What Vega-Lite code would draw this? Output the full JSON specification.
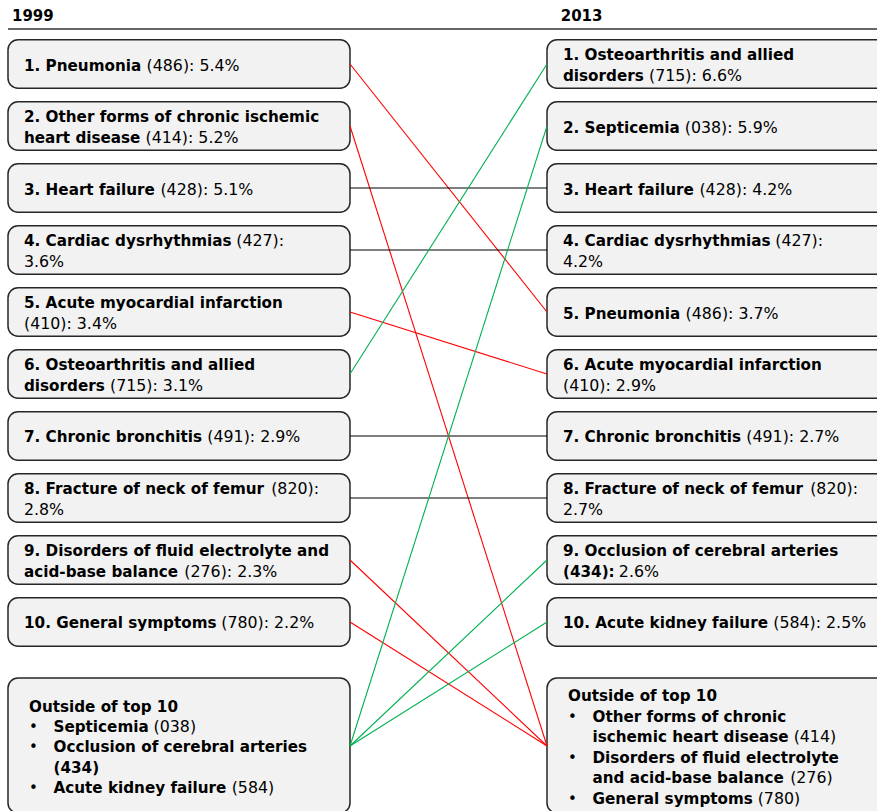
{
  "$schema": "https://vega.github.io/schema/vega-lite/v6.json",
  "width": 877,
  "height": 811,
  "autosize": {"type": "none"},
  "padding": 0,
  "background": "white",
  "config": {"view": {"stroke": null}, "font": "DejaVu Sans"},
  "datasets": {
    "lines": [
      {"year": "1999", "rank": 1, "kind": "plain", "b": "1. Pneumonia", "n": "(486): 5.4%"},
      {"year": "1999", "rank": 2, "kind": "plain", "b": "2. Other forms of chronic ischemic", "n": ""},
      {"year": "1999", "rank": 2, "kind": "plain", "b": "heart disease", "n": "(414): 5.2%"},
      {"year": "1999", "rank": 3, "kind": "plain", "b": "3. Heart failure", "n": "(428): 5.1%"},
      {"year": "1999", "rank": 4, "kind": "plain", "b": "4. Cardiac dysrhythmias", "n": "(427):"},
      {"year": "1999", "rank": 4, "kind": "plain", "b": "", "n": "3.6%"},
      {"year": "1999", "rank": 5, "kind": "plain", "b": "5. Acute myocardial infarction", "n": ""},
      {"year": "1999", "rank": 5, "kind": "plain", "b": "", "n": "(410): 3.4%"},
      {"year": "1999", "rank": 6, "kind": "plain", "b": "6. Osteoarthritis and allied", "n": ""},
      {"year": "1999", "rank": 6, "kind": "plain", "b": "disorders", "n": "(715): 3.1%"},
      {"year": "1999", "rank": 7, "kind": "plain", "b": "7. Chronic bronchitis", "n": "(491): 2.9%"},
      {"year": "1999", "rank": 8, "kind": "plain", "b": "8. Fracture of neck of femur", "n": "(820):"},
      {"year": "1999", "rank": 8, "kind": "plain", "b": "", "n": "2.8%"},
      {"year": "1999", "rank": 9, "kind": "plain", "b": "9. Disorders of fluid electrolyte and", "n": ""},
      {"year": "1999", "rank": 9, "kind": "plain", "b": "acid-base balance", "n": "(276): 2.3%"},
      {"year": "1999", "rank": 10, "kind": "plain", "b": "10. General symptoms", "n": "(780): 2.2%"},
      {"year": "1999", "rank": 11, "kind": "title", "b": "Outside of top 10", "n": ""},
      {"year": "1999", "rank": 11, "kind": "bullet", "b": "Septicemia", "n": "(038)"},
      {"year": "1999", "rank": 11, "kind": "bullet", "b": "Occlusion of cerebral arteries", "n": ""},
      {"year": "1999", "rank": 11, "kind": "cont", "b": "(434)", "n": ""},
      {"year": "1999", "rank": 11, "kind": "bullet", "b": "Acute kidney failure", "n": "(584)"},
      {"year": "2013", "rank": 1, "kind": "plain", "b": "1. Osteoarthritis and allied", "n": ""},
      {"year": "2013", "rank": 1, "kind": "plain", "b": "disorders", "n": "(715): 6.6%"},
      {"year": "2013", "rank": 2, "kind": "plain", "b": "2. Septicemia", "n": "(038): 5.9%"},
      {"year": "2013", "rank": 3, "kind": "plain", "b": "3. Heart failure", "n": "(428): 4.2%"},
      {"year": "2013", "rank": 4, "kind": "plain", "b": "4. Cardiac dysrhythmias", "n": "(427):"},
      {"year": "2013", "rank": 4, "kind": "plain", "b": "", "n": "4.2%"},
      {"year": "2013", "rank": 5, "kind": "plain", "b": "5. Pneumonia", "n": "(486): 3.7%"},
      {"year": "2013", "rank": 6, "kind": "plain", "b": "6. Acute myocardial infarction", "n": ""},
      {"year": "2013", "rank": 6, "kind": "plain", "b": "", "n": "(410): 2.9%"},
      {"year": "2013", "rank": 7, "kind": "plain", "b": "7. Chronic bronchitis", "n": "(491): 2.7%"},
      {"year": "2013", "rank": 8, "kind": "plain", "b": "8. Fracture of neck of femur", "n": "(820):"},
      {"year": "2013", "rank": 8, "kind": "plain", "b": "", "n": "2.7%"},
      {"year": "2013", "rank": 9, "kind": "plain", "b": "9. Occlusion of cerebral arteries", "n": ""},
      {"year": "2013", "rank": 9, "kind": "plain", "b": "(434):", "n": "2.6%"},
      {"year": "2013", "rank": 10, "kind": "plain", "b": "10. Acute kidney failure", "n": "(584): 2.5%"},
      {"year": "2013", "rank": 11, "kind": "title", "b": "Outside of top 10", "n": ""},
      {"year": "2013", "rank": 11, "kind": "bullet", "b": "Other forms of chronic", "n": ""},
      {"year": "2013", "rank": 11, "kind": "cont", "b": "ischemic heart disease", "n": "(414)"},
      {"year": "2013", "rank": 11, "kind": "bullet", "b": "Disorders of fluid electrolyte", "n": ""},
      {"year": "2013", "rank": 11, "kind": "cont", "b": "and acid-base balance", "n": "(276)"},
      {"year": "2013", "rank": 11, "kind": "bullet", "b": "General symptoms", "n": "(780)"}
    ],
    "links": [
      {"from": 1, "to": 5},
      {"from": 2, "to": 11},
      {"from": 3, "to": 3},
      {"from": 4, "to": 4},
      {"from": 5, "to": 6},
      {"from": 6, "to": 1},
      {"from": 7, "to": 7},
      {"from": 8, "to": 8},
      {"from": 9, "to": 11},
      {"from": 10, "to": 11},
      {"from": 11, "to": 2},
      {"from": 11, "to": 9},
      {"from": 11, "to": 10}
    ],
    "headers": [{"year": "1999"}, {"year": "2013"}]
  },
  "layer": [
    {
      "data": {"name": "headers"},
      "transform": [{"filter": "datum.year == '1999'"}],
      "mark": {"type": "rule", "color": "#333333", "strokeWidth": 1.3},
      "encoding": {
        "x": {"datum": 0, "type": "quantitative", "scale": {"domain": [-0.014842, 1.612245]}, "axis": null},
        "x2": {"datum": 1.62},
        "y": {"datum": 0.4355, "type": "quantitative", "scale": {"domain": [-0.03226, 13.04839], "reverse": true}, "axis": null}
      }
    },
    {
      "data": {"name": "headers"},
      "transform": [
        {"calculate": "datum.year == '2013' ? 1 + 13.7/539 : 4/539", "as": "hx"},
        {"calculate": "0.3016", "as": "hy"}
      ],
      "mark": {"type": "text", "fontWeight": "bold", "fontSize": 15, "align": "left", "baseline": "alphabetic", "color": "#000000"},
      "encoding": {
        "x": {"field": "hx", "type": "quantitative", "scale": {"domain": [-0.014842, 1.612245]}, "axis": null},
        "y": {"field": "hy", "type": "quantitative", "scale": {"domain": [-0.03226, 13.04839], "reverse": true}, "axis": null},
        "text": {"field": "year"}
      }
    },
    {
      "data": {"name": "lines"},
      "transform": [
        {"aggregate": [{"op": "count", "as": "nl"}], "groupby": ["year", "rank"]},
        {"calculate": "datum.year == '2013' ? 1 : 0", "as": "col"},
        {"calculate": "datum.col + 342/539", "as": "colr"},
        {"calculate": "datum.rank > 10 ? 10.903 : datum.rank - 0.39", "as": "top"},
        {"calculate": "datum.rank > 10 ? 13.08 : datum.rank + 0.39", "as": "bot"}
      ],
      "mark": {"type": "rect", "cornerRadius": 10, "fill": "#f2f2f2", "stroke": "#262626", "strokeWidth": 1.5},
      "encoding": {
        "x": {"field": "col", "type": "quantitative", "scale": {"domain": [-0.014842, 1.612245]}, "axis": null},
        "x2": {"field": "colr"},
        "y": {"field": "top", "type": "quantitative", "scale": {"domain": [-0.03226, 13.04839], "reverse": true}, "axis": null},
        "y2": {"field": "bot"}
      }
    },
    {
      "data": {"name": "links"},
      "transform": [
        {"calculate": "datum.from > 10 ? 12 : datum.from", "as": "ya"},
        {"calculate": "datum.to > 10 ? 12 : datum.to", "as": "yb"},
        {"calculate": "datum.from < datum.to ? 'fell' : (datum.from > datum.to ? 'rose' : 'same')", "as": "change"}
      ],
      "mark": {"type": "rule", "strokeWidth": 1.1},
      "encoding": {
        "x": {"datum": 0.6345, "type": "quantitative", "scale": {"domain": [-0.014842, 1.612245]}, "axis": null},
        "x2": {"datum": 1},
        "y": {"field": "ya", "type": "quantitative", "scale": {"domain": [-0.03226, 13.04839], "reverse": true}, "axis": null},
        "y2": {"field": "yb"},
        "color": {"field": "change", "type": "nominal", "scale": {"domain": ["fell", "rose", "same"], "range": ["#ff0000", "#00b050", "#000000"]}, "legend": null}
      }
    },
    {
      "data": {"name": "lines"},
      "transform": [
        {"window": [{"op": "row_number", "as": "idx"}], "groupby": ["year", "rank"]},
        {"joinaggregate": [{"op": "count", "as": "nl"}], "groupby": ["year", "rank"]},
        {"calculate": "datum.year == '2013' ? 1 : 0", "as": "col"},
        {"calculate": "(datum.rank > 10 ? 12 : datum.rank) + (datum.idx - (datum.nl + 1) / 2) * 0.3306", "as": "ypos"},
        {"calculate": "datum.kind == 'plain' ? 16 : (datum.kind == 'title' ? 21 : 45.5)", "as": "indent"},
        {"filter": "datum.b != ''"},
        {"calculate": "datum.col + datum.indent / 539", "as": "xb"}
      ],
      "mark": {"type": "text", "fontWeight": "bold", "fontSize": 15.2, "align": "left", "baseline": "alphabetic", "dy": 6.5, "color": "#000000"},
      "encoding": {
        "x": {"field": "xb", "type": "quantitative", "scale": {"domain": [-0.014842, 1.612245]}, "axis": null},
        "y": {"field": "ypos", "type": "quantitative", "scale": {"domain": [-0.03226, 13.04839], "reverse": true}, "axis": null},
        "text": {"field": "b"}
      }
    },
    {
      "data": {"name": "lines"},
      "transform": [
        {"window": [{"op": "row_number", "as": "idx"}], "groupby": ["year", "rank"]},
        {"joinaggregate": [{"op": "count", "as": "nl"}], "groupby": ["year", "rank"]},
        {"calculate": "datum.year == '2013' ? 1 : 0", "as": "col"},
        {"calculate": "(datum.rank > 10 ? 12 : datum.rank) + (datum.idx - (datum.nl + 1) / 2) * 0.3306", "as": "ypos"},
        {"calculate": "datum.kind == 'plain' ? 16 : (datum.kind == 'title' ? 21 : 45.5)", "as": "indent"},
        {"filter": "datum.n != ''"},
        {"calculate": "0.35*length(replace(datum.b, regexp('[^ ijlI]','g'), '')) + 0.39*length(replace(datum.b, regexp('[^.,:;]','g'), '')) + 0.45*length(replace(datum.b, regexp('[^()ft-]','g'), '')) + 0.493*length(replace(datum.b, regexp('[^r]','g'), '')) + 0.59*length(replace(datum.b, regexp('[^csz]','g'), '')) + 0.655*length(replace(datum.b, regexp('[^vxyk]','g'), '')) + 0.685*length(replace(datum.b, regexp('[^aeEF0-9]','g'), '')) + 0.71*length(replace(datum.b, regexp('[^bdghnopqu]','g'), '')) + 0.73*length(replace(datum.b, regexp('[^PCS]','g'), '')) + 0.77*length(replace(datum.b, regexp('[^ABT]','g'), '')) + 0.835*length(replace(datum.b, regexp('[^DGHNOUK]','g'), '')) + 0.92*length(replace(datum.b, regexp('[^w]','g'), '')) + 1.02*length(replace(datum.b, regexp('[^Mm]','g'), ''))", "as": "bw"},
        {"calculate": "datum.col + (datum.indent + 15.2 * datum.bw + (datum.b != '' ? 5 : 0)) / 539", "as": "xn"}
      ],
      "mark": {"type": "text", "fontSize": 15.8, "align": "left", "baseline": "alphabetic", "dy": 6.5, "color": "#000000"},
      "encoding": {
        "x": {"field": "xn", "type": "quantitative", "scale": {"domain": [-0.014842, 1.612245]}, "axis": null},
        "y": {"field": "ypos", "type": "quantitative", "scale": {"domain": [-0.03226, 13.04839], "reverse": true}, "axis": null},
        "text": {"field": "n"}
      }
    },
    {
      "data": {"name": "lines"},
      "transform": [
        {"window": [{"op": "row_number", "as": "idx"}], "groupby": ["year", "rank"]},
        {"joinaggregate": [{"op": "count", "as": "nl"}], "groupby": ["year", "rank"]},
        {"calculate": "datum.year == '2013' ? 1 : 0", "as": "col"},
        {"calculate": "(datum.rank > 10 ? 12 : datum.rank) + (datum.idx - (datum.nl + 1) / 2) * 0.3306", "as": "ypos"},
        {"filter": "datum.kind == 'bullet'"},
        {"calculate": "datum.col + 21 / 539", "as": "xd"}
      ],
      "mark": {"type": "text", "fontSize": 15, "align": "left", "baseline": "alphabetic", "dy": 6.5, "color": "#000000", "text": "•"},
      "encoding": {
        "x": {"field": "xd", "type": "quantitative", "scale": {"domain": [-0.014842, 1.612245]}, "axis": null},
        "y": {"field": "ypos", "type": "quantitative", "scale": {"domain": [-0.03226, 13.04839], "reverse": true}, "axis": null}
      }
    }
  ]
}
